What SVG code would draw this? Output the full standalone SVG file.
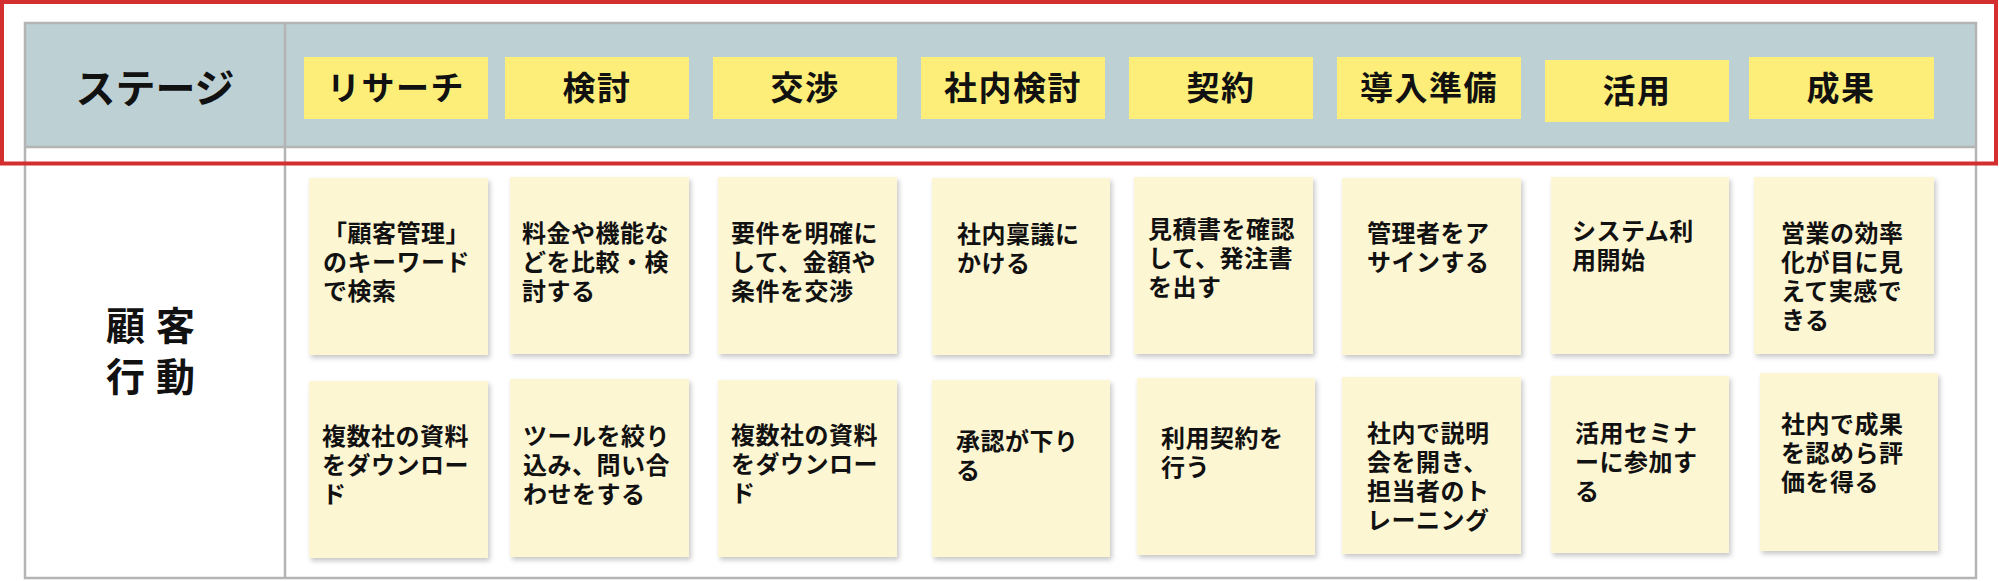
<svg xmlns="http://www.w3.org/2000/svg" width="1999" height="581" viewBox="0 0 1999 581">
<defs>
<style>
text{font-family:"Liberation Sans","Noto Sans CJK JP",sans-serif;fill:#111;}
.stage rect{fill:#fdee7a;}
.stage text{font-size:33px;font-weight:700;text-anchor:middle;letter-spacing:1.5px;}
.note rect{fill:#fdf6d3;filter:url(#sh);}
.note text{font-size:24px;font-weight:700;letter-spacing:0.5px;}
.grid{fill:none;stroke:#b4b4b4;stroke-width:2.5;}
</style>
<filter id="sh" x="-10%" y="-10%" width="125%" height="125%">
<feDropShadow dx="2" dy="3" stdDeviation="2.5" flood-color="#000" flood-opacity="0.22"/>
</filter>
</defs>
<rect width="1999" height="581" fill="#fff"/>
<g id="table">
<rect x="25" y="23" width="1951" height="124" fill="#bdd0d4"/>
<rect class="grid" x="25" y="23" width="1951" height="555"/>
<line class="grid" x1="25" y1="147" x2="1976" y2="147" stroke="#a9a9a9"/>
<line class="grid" x1="285" y1="23" x2="285" y2="578"/>
<text x="155" y="103" font-size="40" font-weight="700" text-anchor="middle">ステージ</text>
<text x="106" y="340" font-size="39" font-weight="700" letter-spacing="11">顧客</text>
<text x="106" y="391" font-size="39" font-weight="700" letter-spacing="11">行動</text>
</g>
<g id="stages">
<g id="stage-research" class="stage"><rect x="304" y="57" width="184" height="62"/><text x="396" y="100">リサーチ</text></g>
<g id="stage-kento" class="stage"><rect x="505" y="57" width="184" height="62"/><text x="597" y="100">検討</text></g>
<g id="stage-kosho" class="stage"><rect x="713" y="57" width="184" height="62"/><text x="805" y="100">交渉</text></g>
<g id="stage-shanai" class="stage"><rect x="921" y="57" width="184" height="62"/><text x="1013" y="100">社内検討</text></g>
<g id="stage-keiyaku" class="stage"><rect x="1129" y="57" width="184" height="62"/><text x="1221" y="100">契約</text></g>
<g id="stage-donyu" class="stage"><rect x="1337" y="57" width="184" height="62"/><text x="1429" y="100">導入準備</text></g>
<g id="stage-katsuyo" class="stage"><rect x="1545" y="60" width="184" height="62"/><text x="1637" y="103">活用</text></g>
<g id="stage-seika" class="stage"><rect x="1749" y="57" width="185" height="62"/><text x="1841" y="100">成果</text></g>
</g>
<g id="notes">
<g id="n1a" class="note"><rect x="309" y="178" width="179" height="177"/><text x="323" y="242"><tspan x="323">「顧客管理」</tspan><tspan x="323" dy="29">のキーワード</tspan><tspan x="323" dy="29">で検索</tspan></text></g>
<g id="n1b" class="note"><rect x="309" y="381" width="179" height="177"/><text x="322" y="445"><tspan x="322">複数社の資料</tspan><tspan x="322" dy="29">をダウンロー</tspan><tspan x="322" dy="29">ド</tspan></text></g>
<g id="n2a" class="note"><rect x="510" y="177" width="179" height="177"/><text x="522" y="242"><tspan x="522">料金や機能な</tspan><tspan x="522" dy="29">どを比較・検</tspan><tspan x="522" dy="29">討する</tspan></text></g>
<g id="n2b" class="note"><rect x="510" y="379" width="179" height="178"/><text x="523" y="445"><tspan x="523">ツールを絞り</tspan><tspan x="523" dy="29">込み、問い合</tspan><tspan x="523" dy="29">わせをする</tspan></text></g>
<g id="n3a" class="note"><rect x="718" y="177" width="179" height="177"/><text x="731" y="242"><tspan x="731">要件を明確に</tspan><tspan x="731" dy="29">して、金額や</tspan><tspan x="731" dy="29">条件を交渉</tspan></text></g>
<g id="n3b" class="note"><rect x="718" y="380" width="179" height="177"/><text x="731" y="444"><tspan x="731">複数社の資料</tspan><tspan x="731" dy="29">をダウンロー</tspan><tspan x="731" dy="29">ド</tspan></text></g>
<g id="n4a" class="note"><rect x="932" y="178" width="178" height="177"/><text x="957" y="243"><tspan x="957">社内稟議に</tspan><tspan x="957" dy="29">かける</tspan></text></g>
<g id="n4b" class="note"><rect x="932" y="380" width="178" height="177"/><text x="956" y="450"><tspan x="956">承認が下り</tspan><tspan x="956" dy="29">る</tspan></text></g>
<g id="n5a" class="note"><rect x="1134" y="177" width="179" height="177"/><text x="1148" y="238"><tspan x="1148">見積書を確認</tspan><tspan x="1148" dy="29">して、発注書</tspan><tspan x="1148" dy="29">を出す</tspan></text></g>
<g id="n5b" class="note"><rect x="1137" y="378" width="178" height="177"/><text x="1161" y="447"><tspan x="1161">利用契約を</tspan><tspan x="1161" dy="29">行う</tspan></text></g>
<g id="n6a" class="note"><rect x="1342" y="178" width="179" height="177"/><text x="1367" y="242"><tspan x="1367">管理者をア</tspan><tspan x="1367" dy="29">サインする</tspan></text></g>
<g id="n6b" class="note"><rect x="1342" y="377" width="179" height="177"/><text x="1367" y="442"><tspan x="1367">社内で説明</tspan><tspan x="1367" dy="29">会を開き、</tspan><tspan x="1367" dy="29">担当者のト</tspan><tspan x="1367" dy="29">レーニング</tspan></text></g>
<g id="n7a" class="note"><rect x="1551" y="177" width="178" height="177"/><text x="1572" y="240"><tspan x="1572">システム利</tspan><tspan x="1572" dy="29">用開始</tspan></text></g>
<g id="n7b" class="note"><rect x="1551" y="376" width="178" height="177"/><text x="1575" y="442"><tspan x="1575">活用セミナ</tspan><tspan x="1575" dy="29">ーに参加す</tspan><tspan x="1575" dy="29">る</tspan></text></g>
<g id="n8a" class="note"><rect x="1754" y="177" width="180" height="177"/><text x="1781" y="242"><tspan x="1781">営業の効率</tspan><tspan x="1781" dy="29">化が目に見</tspan><tspan x="1781" dy="29">えて実感で</tspan><tspan x="1781" dy="29">きる</tspan></text></g>
<g id="n8b" class="note"><rect x="1760" y="373" width="178" height="178"/><text x="1781" y="433"><tspan x="1781">社内で成果</tspan><tspan x="1781" dy="29">を認めら評</tspan><tspan x="1781" dy="29">価を得る</tspan></text></g>
</g>
<g id="highlight">
<rect x="2" y="2" width="1994" height="161.5" fill="none" stroke="#d32f2f" stroke-width="4"/>
</g>
</svg>
